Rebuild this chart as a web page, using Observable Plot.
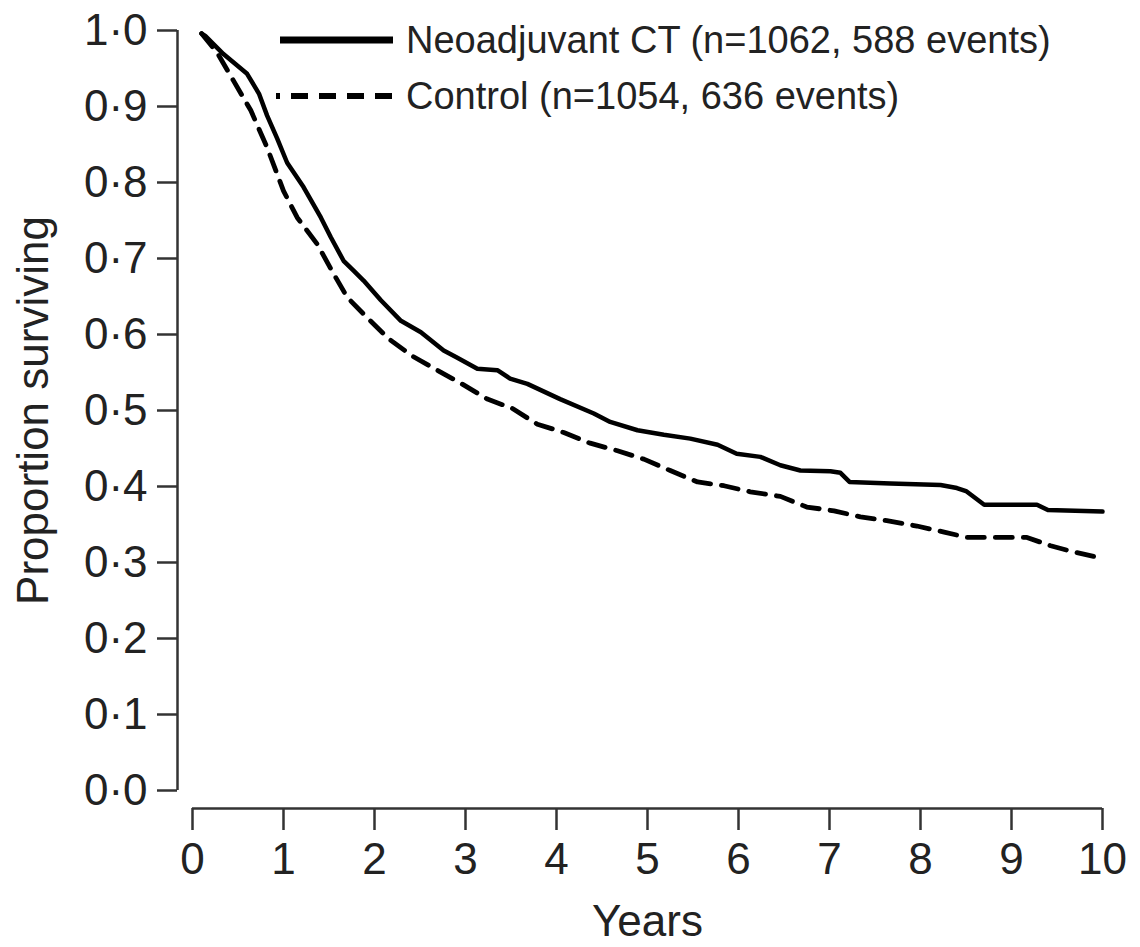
<!DOCTYPE html>
<html>
<head>
<meta charset="utf-8">
<script src="https://cdn.jsdelivr.net/npm/d3@7"></script>
<script src="https://cdn.jsdelivr.net/npm/@observablehq/plot@0.6"></script>
<style>
  html, body { margin: 0; padding: 0; background: #fff; }
  #wrap { position: relative; width: 1140px; height: 947px; overflow: hidden; }
  #legend { position: absolute; left: 276px; top: 12px; font-family: "Liberation Sans", Arial, sans-serif; font-size: 38px; color: #222; }
  .row { display: flex; align-items: center; height: 56px; white-space: nowrap; }
  .row svg { margin-right: 13px; }
</style>
</head>
<body>
<div id="wrap">
  <div id="chart"></div>
  <div id="legend"></div>
</div>
<script>
// Neoadjuvant CT (solid)
const neoT = [0.1, 0.14, 0.34, 0.60, 0.73, 0.82, 0.93, 1.04, 1.22, 1.41, 1.52, 1.66, 1.77, 1.88, 2.07, 2.29, 2.51, 2.76, 2.90, 3.13, 3.35, 3.49, 3.68, 4.04, 4.41, 4.59, 4.89, 5.18, 5.47, 5.77, 5.98, 6.24, 6.46, 6.68, 7.01, 7.12, 7.22, 7.67, 8.22, 8.40, 8.50, 8.70, 9.28, 9.40, 10.0];
const neoS = [0.996, 0.993, 0.969, 0.943, 0.917, 0.888, 0.858, 0.826, 0.794, 0.754, 0.728, 0.697, 0.684, 0.671, 0.645, 0.618, 0.603, 0.579, 0.570, 0.555, 0.553, 0.542, 0.535, 0.515, 0.496, 0.485, 0.474, 0.468, 0.463, 0.455, 0.443, 0.439, 0.428, 0.421, 0.420, 0.418, 0.406, 0.404, 0.402, 0.398, 0.394, 0.376, 0.376, 0.369, 0.367];

// Control (dashed)
const ctlT = [0.1, 0.27, 0.45, 0.64, 0.82, 1.00, 1.15, 1.37, 1.55, 1.70, 1.92, 2.16, 2.41, 2.69, 2.96, 3.24, 3.51, 3.79, 4.08, 4.37, 4.67, 4.96, 5.25, 5.55, 5.84, 6.13, 6.46, 6.75, 7.05, 7.34, 7.63, 7.96, 8.26, 8.51, 8.84, 9.17, 9.43, 9.68, 9.94, 10.0];
const ctlS = [0.996, 0.971, 0.934, 0.895, 0.846, 0.789, 0.754, 0.719, 0.680, 0.649, 0.622, 0.594, 0.572, 0.553, 0.535, 0.515, 0.503, 0.482, 0.471, 0.457, 0.447, 0.436, 0.421, 0.406, 0.401, 0.393, 0.387, 0.373, 0.368, 0.360, 0.355, 0.348, 0.340, 0.333, 0.333, 0.333, 0.322, 0.314, 0.307, 0.307];

const xTicks = [0, 1, 2, 3, 4, 5, 6, 7, 8, 9, 10];
const xTickLabels = ["0", "1", "2", "3", "4", "5", "6", "7", "8", "9", "10"];
const yTicks = [0, 0.1, 0.2, 0.3, 0.4, 0.5, 0.6, 0.7, 0.8, 0.9, 1.0];
const yTickLabels = ["0·0", "0·1", "0·2", "0·3", "0·4", "0·5", "0·6", "0·7", "0·8", "0·9", "1·0"];

const seriesNames = ["Neoadjuvant CT (n=1062, 588 events)", "Control (n=1054, 636 events)"];
const seriesDash = [null, "17 11"];

const neo = neoT.map((t, i) => ({t, s: neoS[i]}));
const ctl = ctlT.map((t, i) => ({t, s: ctlS[i]}));

const axisColor = "#333";

const chart = Plot.plot({
  width: 1140,
  height: 947,
  marginLeft: 192,
  marginRight: 38,
  marginTop: 30,
  marginBottom: 157,
  style: {fontFamily: "'Liberation Sans', Arial, sans-serif", color: "#222", background: "#fff", overflow: "visible"},
  x: {domain: [0, 10]},
  y: {domain: [0, 1]},
  marks: [
    Plot.ruleX([0], {y1: 0, y2: 1, dx: -15, stroke: axisColor, strokeWidth: 2.5}),
    Plot.ruleY([0], {x1: 0, x2: 10, dy: 18, stroke: axisColor, strokeWidth: 2.5}),
    Plot.axisY(yTicks, {
      dx: -15, tickSize: 20, tickPadding: 10, stroke: axisColor, strokeWidth: 2.5,
      fontSize: 44, fill: "#222",
      tickFormat: d => yTickLabels[yTicks.indexOf(d)],
      label: "Proportion surviving", labelAnchor: "center", labelOffset: 176, labelArrow: "none"
    }),
    Plot.axisX(xTicks, {
      dy: 18, tickSize: 22, tickPadding: 12, stroke: axisColor, strokeWidth: 2.5,
      fontSize: 44, fill: "#222",
      tickFormat: d => xTickLabels[xTicks.indexOf(d)],
      label: "Years", labelAnchor: "center", labelOffset: 145, labelArrow: "none"
    }),
    Plot.line(neo, {x: "t", y: "s", stroke: "#000", strokeWidth: 4.5, strokeLinejoin: "round"}),
    Plot.line(ctl, {x: "t", y: "s", stroke: "#000", strokeWidth: 4.8, strokeDasharray: "17 11"})
  ]
});
document.getElementById("chart").appendChild(chart);

// Legend (HTML overlay)
const legend = document.getElementById("legend");
seriesNames.forEach((name, i) => {
  const row = document.createElement("div");
  row.className = "row";
  const ns = "http://www.w3.org/2000/svg";
  const svg = document.createElementNS(ns, "svg");
  svg.setAttribute("width", 117);
  svg.setAttribute("height", 14);
  const line = document.createElementNS(ns, "line");
  line.setAttribute("x1", i === 0 ? 4 : 0);
  line.setAttribute("x2", 117);
  line.setAttribute("y1", 7);
  line.setAttribute("y2", 7);
  line.setAttribute("stroke", "#000");
  line.setAttribute("stroke-width", i === 0 ? 7 : 6);
  if (seriesDash[i]) {
    line.setAttribute("stroke-dasharray", seriesDash[i]);
    line.setAttribute("stroke-dashoffset", 13);
  }
  svg.appendChild(line);
  const label = document.createElement("span");
  label.textContent = name;
  row.appendChild(svg);
  row.appendChild(label);
  legend.appendChild(row);
});
</script>
</body>
</html>
